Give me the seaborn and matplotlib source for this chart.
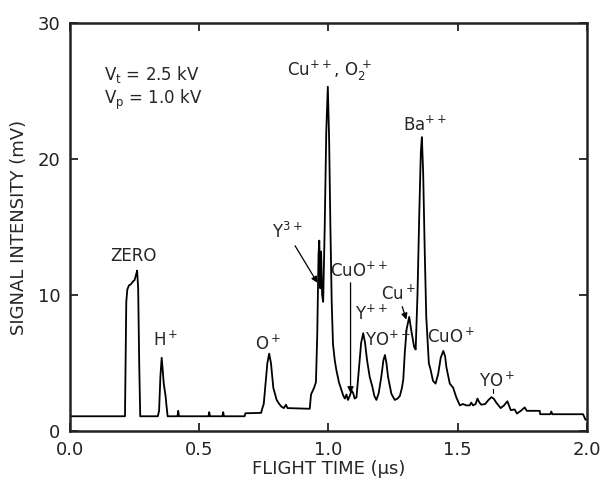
import matplotlib
matplotlib.use("Agg")
import matplotlib.pyplot as plt
import seaborn as sns
import pandas as pd

# flight time (us) and signal (mV)
flight_time = [
    0.000, 0.213, 0.218, 0.222, 0.228, 0.236, 0.244, 0.250, 0.256, 0.260, 0.264, 0.268, 0.272,
    0.340, 0.345, 0.350, 0.355, 0.359, 0.363, 0.367, 0.370, 0.373, 0.378,
    0.416, 0.419, 0.422, 0.536, 0.539, 0.542, 0.590, 0.593, 0.596, 0.676, 0.679,
    0.740, 0.744, 0.750, 0.757, 0.764, 0.771, 0.778, 0.787, 0.800, 0.810, 0.819, 0.828, 0.836, 0.842,
    0.928, 0.933, 0.945, 0.952, 0.957, 0.962, 0.965, 0.969, 0.972, 0.976, 0.980, 0.986, 0.992, 0.998,
    1.003, 1.008, 1.013, 1.018, 1.025, 1.031, 1.041, 1.051, 1.058, 1.064, 1.070, 1.076, 1.083, 1.090,
    1.096, 1.102, 1.109, 1.118, 1.127, 1.135, 1.142, 1.150, 1.160, 1.170, 1.178, 1.186, 1.195, 1.205,
    1.213, 1.219, 1.225, 1.231, 1.244, 1.257, 1.268, 1.277, 1.285, 1.290, 1.296, 1.303, 1.313, 1.321,
    1.332, 1.338, 1.345, 1.352, 1.358, 1.362, 1.367, 1.373, 1.379, 1.389, 1.396, 1.405, 1.415, 1.425,
    1.435, 1.445, 1.452, 1.457, 1.470, 1.483, 1.495, 1.509, 1.521, 1.534, 1.547, 1.553, 1.560, 1.570,
    1.577, 1.585, 1.592, 1.607, 1.620, 1.631, 1.640, 1.650, 1.667, 1.680, 1.693, 1.706, 1.721, 1.730,
    1.745, 1.760, 1.768, 1.818, 1.820, 1.859, 1.863, 1.867, 1.986, 1.995, 2.000,
]
signal = [
    1.10, 1.10, 9.5, 10.4, 10.7, 10.8, 11.0, 11.1, 11.5, 11.8, 10.5, 5.0, 1.10,
    1.10, 1.5, 4.0, 5.4, 4.5, 3.5, 3.0, 2.6, 2.0, 1.10,
    1.10, 1.5, 1.10, 1.10, 1.4, 1.10, 1.10, 1.4, 1.10, 1.10, 1.32,
    1.35, 1.65, 2.0, 3.5, 5.0, 5.7, 5.0, 3.2, 2.3, 2.0, 1.8, 1.7, 1.95, 1.7,
    1.65, 2.7, 3.2, 3.6, 7.0, 13.0, 14.0, 10.5, 13.2, 10.0, 9.5, 15.0, 22.0, 25.3,
    21.5, 15.0, 9.5, 6.4, 5.2, 4.5, 3.6, 3.0, 2.6, 2.4, 2.7, 2.3, 2.6, 3.0,
    2.8, 2.4, 2.5, 4.5, 6.5, 7.2, 6.5, 5.2, 4.0, 3.3, 2.6, 2.3, 2.8, 4.0,
    5.2, 5.6, 5.0, 4.0, 2.75, 2.3, 2.4, 2.6, 3.2, 3.8, 5.8, 7.5, 8.4, 7.4,
    6.2, 6.0, 10.0, 16.0, 20.5, 21.6, 19.0, 13.3, 8.4, 5.0, 4.5, 3.7, 3.5, 4.2,
    5.4, 5.9, 5.5, 4.7, 3.5, 3.2, 2.5, 1.9, 2.0, 1.9, 1.9, 2.1, 1.9, 2.0,
    2.4, 2.1, 1.95, 2.0, 2.3, 2.5, 2.4, 2.1, 1.7, 1.9, 2.2, 1.55, 1.6, 1.3,
    1.5, 1.75, 1.5, 1.5, 1.25, 1.25, 1.45, 1.25, 1.25, 0.85, 0.85,
]

x_ticks = [0.0, 0.5, 1.0, 1.5, 2.0]
x_tick_labels = ["0.0", "0.5", "1.0", "1.5", "2.0"]
y_ticks = [0, 10, 20, 30]
y_tick_labels = ["0", "10", "20", "30"]

sns.set_style("ticks")
plt.rcParams["font.family"] = ["DejaVu Sans"]
plt.rcParams["mathtext.default"] = "regular"

df = pd.DataFrame({"t": flight_time, "s": signal})

fig = plt.figure(figsize=(6.03, 4.84), dpi=100)
ax = fig.add_axes([0.116, 0.109, 0.857, 0.844])

sns.lineplot(data=df, x="t", y="s", estimator=None, sort=False,
             color="black", linewidth=1.3, ax=ax)

ax.set_xlim(0, 2.0)
ax.set_ylim(0, 30)
ax.set_xticks(x_ticks)
ax.set_xticklabels(x_tick_labels)
ax.set_yticks(y_ticks)
ax.set_yticklabels(y_tick_labels)
ax.tick_params(direction="in", length=6, width=1.3, labelsize=13, colors="#222222",
               top=True, right=True)
ax.tick_params(axis="x", pad=7)
ax.tick_params(axis="y", pad=7)
for s in ax.spines.values():
    s.set_linewidth(1.8)
    s.set_color("#222222")

ax.set_xlabel("FLIGHT TIME (μs)", fontsize=13, labelpad=1)
ax.set_ylabel("SIGNAL INTENSITY (mV)", fontsize=13, labelpad=7)

fs = 12
ax.text(0.13, 26.2, "V$_t$ = 2.5 kV", fontsize=fs, va="center")
ax.text(0.13, 24.3, "V$_p$ = 1.0 kV", fontsize=fs, va="center")
ax.text(0.244, 12.9, "ZERO", fontsize=fs, ha="center", va="center")
ax.text(0.37, 6.7, "H$^+$", fontsize=fs, ha="center", va="center")
ax.text(0.766, 6.4, "O$^+$", fontsize=fs, ha="center", va="center")
ax.text(1.006, 26.5, "Cu$^{++}$, O$_2^{\\,+}$", fontsize=fs, ha="center", va="center")
ax.text(1.373, 22.5, "Ba$^{++}$", fontsize=fs, ha="center", va="center")
ax.text(1.12, 11.8, "CuO$^{++}$", fontsize=fs, ha="center", va="center")
ax.text(1.168, 8.6, "Y$^{++}$", fontsize=fs, ha="center", va="center")
ax.text(1.232, 6.7, "YO$^{++}$", fontsize=fs, ha="center", va="center")
ax.text(1.474, 6.9, "CuO$^+$", fontsize=fs, ha="center", va="center")
ax.text(1.652, 3.7, "YO$^+$", fontsize=fs, ha="center", va="center")
ax.plot([1.636, 1.636], [2.8, 3.1], color="black", linewidth=0.8)

arrow = dict(arrowstyle="-|>", color="black", linewidth=0.9, mutation_scale=9,
             shrinkA=0, shrinkB=0)
ax.annotate("Y$^{3+}$", xy=(0.958, 10.9), xytext=(0.84, 14.6), fontsize=fs,
            ha="center", va="center", arrowprops=arrow)
ax.annotate("", xy=(1.086, 2.8), xytext=(1.086, 10.9), arrowprops=arrow)
ax.annotate("Cu$^+$", xy=(1.302, 8.2), xytext=(1.27, 10.1), fontsize=fs,
            ha="center", va="center", arrowprops=arrow)

fig.savefig("out.png", dpi=100)
